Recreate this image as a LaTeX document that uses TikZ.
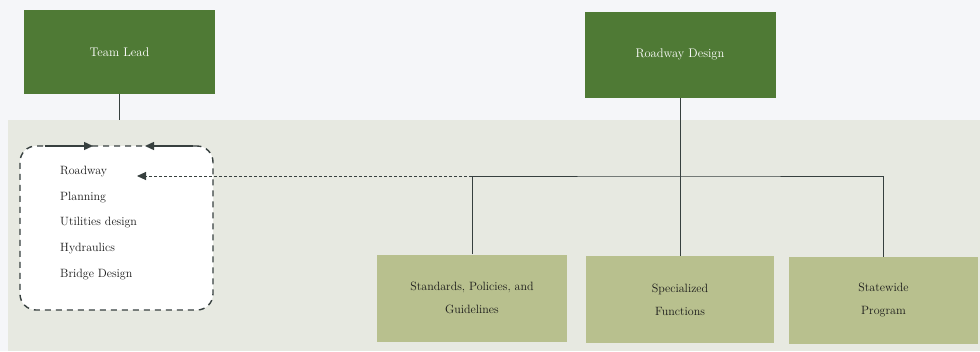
\documentclass[tikz,border=0pt]{standalone}
\usepackage{xcolor}
\definecolor{leadgreen}{HTML}{4F7A35}
\definecolor{olivebox}{HTML}{B8C08E}
\definecolor{panelgrey}{HTML}{E7E9E1}
\definecolor{pagetint}{HTML}{F5F6F9}
\definecolor{linegrey}{HTML}{37403F}
\usetikzlibrary{positioning,calc,arrows.meta}

\begin{document}
\begin{tikzpicture}[x=1pt, y=-1pt,
	headbox/.style={fill=leadgreen, text=white, minimum width=191pt, minimum height=86pt, inner sep=0pt, font=\fontsize{12.5}{14}\selectfont},
	unitbox/.style={fill=olivebox, text=black!90, minimum width=190pt, minimum height=87pt, inner sep=0pt, align=center, font=\fontsize{12}{23}\selectfont},
	item/.style={anchor=west, inner sep=0pt, text=black!90, font=\fontsize{12}{14}\selectfont},
	link/.style={draw=linegrey, line width=0.9pt},
	tip/.style={-{Triangle[length=9pt, width=8pt]}}]
					% page and shaded panel
					\fill[pagetint] (0,0) rectangle (980,351);
					\node[fill=panelgrey, minimum width=972pt, minimum height=231pt, inner sep=0pt] (panel) at (494,235.5) {};
					% heads
					\node[headbox, minimum height=84pt] (lead) at (119.5,52) {Team Lead};
					\node[headbox] (design) at (680,54.5) {Roadway Design};
					\draw[link] (lead.south) -- (lead.south |- panel.north);
					% team group
					\node[draw=linegrey, line width=1.4pt, dash pattern=on 6pt off 5pt, rounded corners=16pt, fill=white, minimum width=193pt, minimum height=164pt] (group) at (116.5,228) {};
					\coordinate (inl) at (45,146);
					\coordinate (inl-tip) at (93,146);
					\coordinate (inr) at (193,146);
					\coordinate (inr-tip) at (145,146);
					\draw[link, line width=1.4pt, tip] (inl) -- (inl-tip);
					\draw[link, line width=1.4pt, tip] (inr) -- (inr-tip);
					\node[item] (road) at (60,172) {Roadway};
					\node[item] (plan) at (60,197.5) {Planning};
					\node[item] (util) at (60,223) {Utilities design};
					\node[item] (hydro) at (60,249) {Hydraulics};
					\node[item] (bridge) at (60,275) {Bridge Design};
					\coordinate (road-in) at (137,176);
					% units
					\node[unitbox] (std) at (472,298) {Standards, Policies, and\\Guidelines};
					\node[unitbox, minimum width=188pt] (spec) at (680,299.5) {Specialized\\Functions};
					\node[unitbox, minimum width=189pt] (state) at (883.5,300.5) {Statewide\\Program};
					\coordinate (split) at (design.south |- 0,176);
					\draw[link] (design.south) -- (split);
					\draw[link] (std.north) |- (split) -| (state.north);
					\draw[link] (split) -- (spec.north);
					\draw[draw=linegrey, line width=1pt, dash pattern=on 3pt off 2pt, tip] (std.north |- split) -- (road-in);
\end{tikzpicture}
\end{document}
